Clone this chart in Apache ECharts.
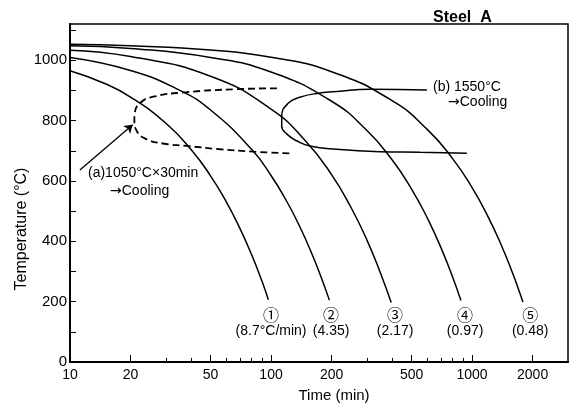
<!DOCTYPE html>
<html lang="en">
<head>
  <meta charset="UTF-8">
  <title>Steel A</title>
  <style>
    html, body { margin: 0; padding: 0; background: #fff; }
    #main { width: 573px; height: 408px; }
  </style>
  <script src="https://cdn.jsdelivr.net/npm/echarts@6/dist/echarts.min.js"></script>
</head>
<body>
  <div id="main"></div>
  <script>
    // cooling curves [time (min), temperature (°C)]
    var curve1 = [[10, 965], [15, 922], [20, 878], [30, 791], [40, 704], [50, 617], [60, 530], [70, 443], [80, 356], [90, 269], [97, 206]];
    var curve2 = [[10, 1009], [20, 966], [35, 901], [50, 835], [80, 705], [100, 618], [120, 531], [140, 444], [160, 357], [180, 270], [195, 205]];
    var curve3 = [[10, 1033], [20, 1012], [50, 947], [100, 838], [150, 729], [200, 621], [250, 512], [300, 404], [350, 295], [396, 197]];
    var curve4 = [[10, 1048], [20, 1039], [50, 1009], [100, 961], [200, 864], [300, 767], [400, 670], [500, 573], [600, 476], [700, 379], [800, 282], [880, 204]];
    var curve5 = [[10, 1053], [20, 1048], [50, 1034], [100, 1010], [200, 962], [400, 866], [600, 770], [800, 674], [1000, 578], [1200, 482], [1400, 386], [1600, 290], [1700, 242], [1790, 199]];

    // (a) 1050°C x 30min -> cooling (dashed)
    var curveA = [[107, 907], [67, 904], [38, 894], [26, 879], [22.3, 858], [21, 825], [20.9, 803], [21.5, 765], [24.1, 738], [29, 724], [38, 716], [56, 705], [82, 697], [127, 691]];
    // (b) 1550°C -> cooling
    var curveB = [[596, 901], [311, 904], [212, 896], [169, 890], [139, 877], [122, 858], [113, 814], [113, 782], [120, 755], [134, 733], [156, 716], [212, 705], [348, 697], [551, 695], [942, 692]];

    var curveNames = ['①', '②', '③', '④', '⑤'];
    var rateTexts = ['(8.7°C/min)', '(4.35)', '(2.17)', '(0.97)', '(0.48)'];
    var labelTimes = [100, 199, 414, 923, 1945];

    var majorTicks = [10, 20, 50, 100, 200, 500, 1000, 2000];
    var minorTicks = [30, 40, 60, 70, 80, 90, 300, 400, 600, 700, 800, 900];
    var yLabels = [0, 200, 400, 600, 800, 1000];
    var yTicks = [0, 100, 200, 300, 400, 500, 600, 700, 800, 900, 1000, 1100];

    var font = 'Liberation Sans';
    var myChart = echarts.init(document.getElementById('main'));

    var solid = { color: '#000', width: 1.5 };
    function curveSeries(data) {
      return { type: 'line', data: data, smooth: true, symbol: 'none', lineStyle: solid, silent: true };
    }
    function labelSeries(texts, temp, family, size) {
      return {
        type: 'scatter', symbolSize: 0, silent: true,
        itemStyle: { opacity: 1, color: '#000' },
        data: labelTimes.map(function (t, i) { return { value: [t, temp], name: texts[i] }; }),
        label: { show: true, position: 'inside', formatter: '{b}', color: '#000', textBorderWidth: 0,
          fontFamily: family, fontSize: size }
      };
    }
    function plain(v) { return String(v); }
    var arrowRich = { a: { fontFamily: 'DejaVu Sans', fontSize: 14, fill: '#000' } };

    var option = {
      backgroundColor: '#fff',
      animation: false,
      grid: { left: 70, right: 5, top: 24, bottom: 40, show: true, borderColor: '#000', borderWidth: 1.5 },
      xAxis: [{
        type: 'log', min: 10, max: 3000,
        name: 'Time (min)', nameLocation: 'middle', nameGap: 26,
        nameTextStyle: { color: '#000', fontFamily: font, fontSize: 15, padding: [0, 0, 0, 30] },
        axisLine: { lineStyle: { color: '#000', width: 2 } },
        axisTick: { inside: true, length: 7, customValues: majorTicks, lineStyle: { color: '#000' } },
        axisLabel: { customValues: majorTicks, formatter: plain, color: '#000', fontFamily: font, fontSize: 14, margin: 6 },
        splitLine: { show: false }
      }, {
        type: 'log', min: 10, max: 3000, position: 'bottom',
        axisLine: { show: false },
        axisTick: { inside: true, length: 4, customValues: minorTicks, lineStyle: { color: '#000' } },
        axisLabel: { show: false },
        splitLine: { show: false }
      }],
      yAxis: {
        type: 'value', min: 0, max: 1120,
        name: 'Temperature (°C)', nameLocation: 'middle', nameGap: 40, nameMoveOverlap: false,
        nameTextStyle: { color: '#000', fontFamily: font, fontSize: 16, padding: [0, 72, 0, 0] },
        axisLine: { show: true, lineStyle: { color: '#000', width: 2 } },
        axisTick: { show: true, inside: true, length: 6, customValues: yTicks, lineStyle: { color: '#000' } },
        axisLabel: { customValues: yLabels, formatter: plain, color: '#000', fontFamily: font, fontSize: 15, margin: 3 },
        splitLine: { show: false }
      },
      graphic: [
        { type: 'text', left: 433, top: 10, style: { text: 'Steel  A', fill: '#000', font: 'bold 16px "Liberation Sans"' } },
        { type: 'text', left: 88, top: 166, style: { text: '(a)1050°C×30min', fill: '#000', font: '14px "Liberation Sans"' } },
        { type: 'text', left: 110, top: 184, style: { text: '{a|→}Cooling', rich: arrowRich, fill: '#000', font: '14px "Liberation Sans"' } },
        { type: 'text', left: 433, top: 80, style: { text: '(b) 1550°C', fill: '#000', font: '14px "Liberation Sans"' } },
        { type: 'text', left: 448, top: 95, style: { text: '{a|→}Cooling', rich: arrowRich, fill: '#000', font: '14px "Liberation Sans"' } }
      ],
      series: [
        curveSeries(curve1),
        curveSeries(curve2),
        curveSeries(curve3),
        curveSeries(curve4),
        curveSeries(curve5),
        {
          type: 'line', data: curveA, smooth: true, symbol: 'none', silent: true,
          lineStyle: { color: '#000', width: 1.8, type: [7, 4] },
          markLine: {
            silent: true, symbol: ['none', 'arrow'], symbolSize: 8, label: { show: false },
            lineStyle: { color: '#000', width: 1.3, type: 'solid' },
            data: [[{ coord: [11.2, 636] }, { coord: [20.5, 786] }]]
          }
        },
        curveSeries(curveB),
        labelSeries(curveNames, 155, 'Noto Sans CJK SC', 16),
        labelSeries(rateTexts, 101, font, 14)
      ]
    };
    myChart.setOption(option);
  </script>
</body>
</html>
